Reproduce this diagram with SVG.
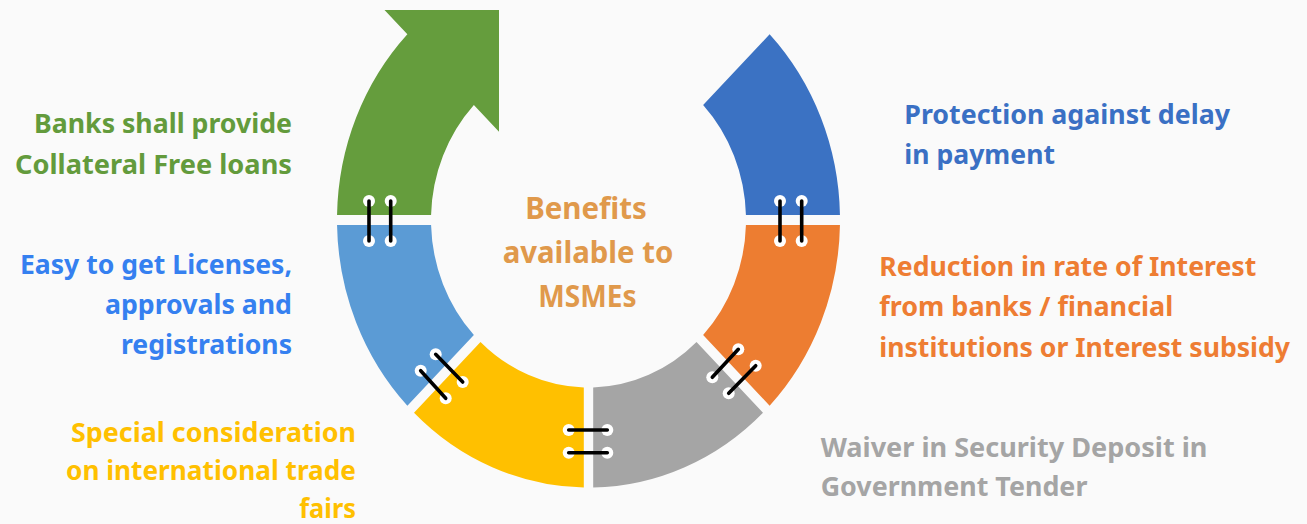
<svg xmlns="http://www.w3.org/2000/svg" width="1307" height="524" viewBox="0 0 1307 524">
  <style>
    text { font-family: "Noto Sans", "Open Sans", sans-serif; font-weight: 700; font-size: 27.5px; }
    .end { text-anchor: end; }
    .mid { text-anchor: middle; font-size: 30px; }
    .hinge-dot circle { fill: #ffffff; r: 6px; }
    .hinge-bar { stroke: #000000; stroke-width: 3.6; stroke-linecap: round; fill: none; }
  </style>
  <rect width="1307" height="524" fill="#fafafa"/>

  <!-- Ring segments (elliptical ring centred at 588.5,220; rx 251.5/157.5, ry 267.6/167.6) -->
  <g id="node-collateral-free-loans">
    <path d="M337.04,215 A251.5,267.6 0 0 1 407.37,34.34 L384.5,10 L499,10 L499,131.8 L473.86,105.09 A157.5,167.58 0 0 0 431.07,215 Z" fill="#659d3d"/>
    <text class="end" x="292" y="133.3" fill="#639b3c" textLength="258" lengthAdjust="spacingAndGlyphs">Banks shall provide</text>
    <text class="end" x="292" y="174" fill="#639b3c" textLength="277" lengthAdjust="spacingAndGlyphs">Collateral Free loans</text>
  </g>

  <g id="node-delay-protection">
    <path d="M769.63,34.34 A251.5,267.6 0 0 1 839.96,215 L745.93,215 A157.5,167.58 0 0 0 703.14,105.09 Z" fill="#3b72c3"/>
    <text x="904.3" y="124.3" fill="#3a70c4" textLength="325.7" lengthAdjust="spacingAndGlyphs">Protection against delay</text>
    <text x="904.3" y="164" fill="#3a70c4" textLength="150.7" lengthAdjust="spacingAndGlyphs">in payment</text>
  </g>

  <g id="node-interest-reduction">
    <path d="M839.96,225 A251.5,267.6 0 0 1 769.63,405.66 L703.14,334.91 A157.5,167.58 0 0 0 745.93,225 Z" fill="#ed7d31"/>
    <text x="879.3" y="275.7" fill="#ee7d33" textLength="377" lengthAdjust="spacingAndGlyphs">Reduction in rate of Interest</text>
    <text x="879.3" y="316" fill="#ee7d33" textLength="294" lengthAdjust="spacingAndGlyphs">from banks / financial</text>
    <text x="879.3" y="356.7" fill="#ee7d33" textLength="410.7" lengthAdjust="spacingAndGlyphs">institutions or Interest subsidy</text>
  </g>

  <g id="node-security-deposit">
    <path d="M762.99,412.72 A251.5,267.6 0 0 1 593.2,487.55 L593.2,387.5 A157.5,167.58 0 0 0 696.5,341.98 Z" fill="#a5a5a5"/>
    <text x="820.7" y="456.7" fill="#a5a5a5" textLength="386.7" lengthAdjust="spacingAndGlyphs">Waiver in Security Deposit in</text>
    <text x="820.7" y="496" fill="#a5a5a5" textLength="266.7" lengthAdjust="spacingAndGlyphs">Government Tender</text>
  </g>

  <g id="node-trade-fairs">
    <path d="M583.8,487.55 A251.5,267.6 0 0 1 414.01,412.72 L480.5,341.98 A157.5,167.58 0 0 0 583.8,387.5 Z" fill="#ffc000"/>
    <text class="end" x="356" y="441.7" fill="#ffc000" textLength="285" lengthAdjust="spacingAndGlyphs">Special consideration</text>
    <text class="end" x="356" y="479.5" fill="#ffc000" textLength="290" lengthAdjust="spacingAndGlyphs">on international trade</text>
    <text class="end" x="356" y="518" fill="#ffc000" textLength="56.7" lengthAdjust="spacingAndGlyphs">fairs</text>
  </g>

  <g id="node-licenses">
    <path d="M407.37,405.66 A251.5,267.6 0 0 1 337.04,225 L431.07,225 A157.5,167.58 0 0 0 473.86,334.91 Z" fill="#5b9bd5"/>
    <text class="end" x="292" y="274" fill="#3580f0" textLength="272" lengthAdjust="spacingAndGlyphs">Easy to get Licenses,</text>
    <text class="end" x="292" y="314" fill="#3580f0" textLength="187" lengthAdjust="spacingAndGlyphs">approvals and</text>
    <text class="end" x="292" y="354" fill="#3580f0" textLength="171" lengthAdjust="spacingAndGlyphs">registrations</text>
  </g>

  <g id="node-centre">
    <text class="mid" x="586" y="219" fill="#e0994b" textLength="121.7" lengthAdjust="spacingAndGlyphs">Benefits</text>
    <text class="mid" x="588" y="263" fill="#e0994b" textLength="170.7" lengthAdjust="spacingAndGlyphs">available to</text>
    <text class="mid" x="587.5" y="306.5" fill="#e0994b" textLength="98.3" lengthAdjust="spacingAndGlyphs">MSMEs</text>
  </g>

  <!-- Hinges joining neighbouring segments -->
  <g id="connectors">
    <g class="hinge-dot">
      <circle cx="369" cy="201" r="6"/><circle cx="369" cy="241" r="6"/>
      <circle cx="390.7" cy="201" r="6"/><circle cx="390.7" cy="241" r="6"/>
      <circle cx="780" cy="201" r="6"/><circle cx="780" cy="241" r="6"/>
      <circle cx="801.7" cy="201" r="6"/><circle cx="801.7" cy="241" r="6"/>
      <circle cx="435.7" cy="354.3" r="6"/><circle cx="462.7" cy="382" r="6"/>
      <circle cx="420.7" cy="370.7" r="6"/><circle cx="445.7" cy="398.3" r="6"/>
      <circle cx="738.3" cy="349.3" r="6"/><circle cx="712.3" cy="377.3" r="6"/>
      <circle cx="755.7" cy="365.7" r="6"/><circle cx="728.7" cy="393.3" r="6"/>
      <circle cx="568.7" cy="430" r="6"/><circle cx="607.3" cy="430" r="6"/>
      <circle cx="568.7" cy="452.7" r="6"/><circle cx="607.3" cy="452.7" r="6"/>
    </g>
    <g class="hinge-bar">
      <line x1="369" y1="201" x2="369" y2="241"/>
      <line x1="390.7" y1="201" x2="390.7" y2="241"/>
      <line x1="780" y1="201" x2="780" y2="241"/>
      <line x1="801.7" y1="201" x2="801.7" y2="241"/>
      <line x1="435.7" y1="354.3" x2="462.7" y2="382"/>
      <line x1="420.7" y1="370.7" x2="445.7" y2="398.3"/>
      <line x1="738.3" y1="349.3" x2="712.3" y2="377.3"/>
      <line x1="755.7" y1="365.7" x2="728.7" y2="393.3"/>
      <line x1="568.7" y1="430" x2="607.3" y2="430"/>
      <line x1="568.7" y1="452.7" x2="607.3" y2="452.7"/>
    </g>
  </g>
</svg>
